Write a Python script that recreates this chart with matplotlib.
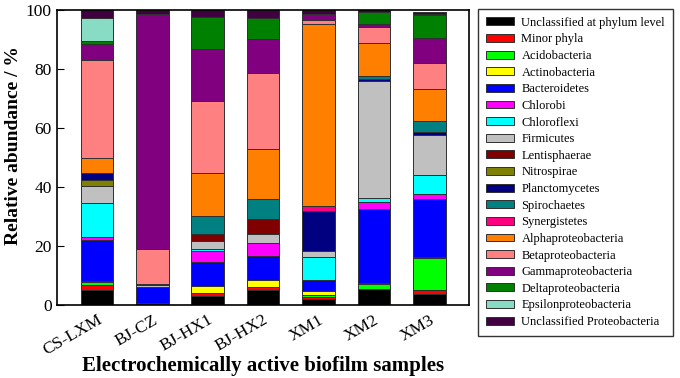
import matplotlib
matplotlib.use("Agg")
import numpy as np
import matplotlib.pyplot as plt

plt.rcParams['font.family'] = ['Liberation Serif', 'DejaVu Serif']

samples = ["CS-LXM", "BJ-CZ", "BJ-HX1", "BJ-HX2", "XM1", "XM2", "XM3"]

taxa = ["Unclassified at phylum level", "Minor phyla", "Acidobacteria",
        "Actinobacteria", "Bacteroidetes", "Chlorobi", "Chloroflexi",
        "Firmicutes", "Lentisphaerae", "Nitrospirae", "Planctomycetes",
        "Spirochaetes", "Synergistetes", "Alphaproteobacteria",
        "Betaproteobacteria", "Gammaproteobacteria", "Deltaproteobacteria",
        "Epsilonproteobacteria", "Unclassified Proteobacteria"]

colours = ["#000000", "#FF0000", "#00FF00", "#FFFF00", "#0000FF", "#FF00FF",
           "#00FFFF", "#C0C0C0", "#800000", "#808000", "#000080", "#008080",
           "#FF0080", "#FF8000", "#FF8080", "#800080", "#008000", "#88DCC4",
           "#400040"]

# relative abundance (%) per taxon, one value per sample
unclass_phylum = [5.1, 0.6, 3.2, 5.1, 2.0, 5.3, 3.6]
minor_phyla    = [1.7, 0.0, 0.8, 0.9, 0.8, 0.3, 1.5]
acidobacteria  = [0.9, 0.0, 0.0, 0.0, 0.6, 1.4, 10.7]
actinobacteria = [0.5, 0.0, 2.4, 2.5, 1.4, 0.5, 0.6]
bacteroidetes  = [13.9, 5.4, 8.3, 8.1, 3.7, 24.9, 19.4]
chlorobi       = [1.1, 0.0, 3.7, 4.3, 0.0, 2.5, 1.7]
chloroflexi    = [11.3, 0.0, 0.7, 0.2, 7.9, 1.5, 6.6]
firmicutes     = [5.9, 0.8, 2.6, 3.0, 2.0, 39.4, 13.5]
lentisphaerae  = [0.0, 0.4, 2.3, 4.9, 0.0, 0.0, 0.0]
nitrospirae    = [2.0, 0.0, 0.0, 0.0, 0.0, 0.0, 0.0]
planctomycetes = [2.2, 0.0, 0.0, 0.0, 13.6, 0.9, 0.9]
spirochaetes   = [0.0, 0.0, 6.3, 6.9, 0.0, 0.8, 4.0]
synergistetes  = [0.0, 0.0, 0.0, 0.0, 1.5, 0.0, 0.0]
alpha          = [5.1, 0.0, 14.5, 16.9, 61.6, 11.1, 10.6]
beta           = [33.3, 11.9, 24.4, 25.7, 1.6, 5.7, 9.0]
gamma          = [5.4, 79.4, 17.5, 11.6, 2.0, 0.8, 8.5]
delta          = [1.1, 0.0, 11.0, 7.3, 0.0, 4.0, 7.7]
epsilon        = [7.9, 0.0, 0.0, 0.0, 0.0, 0.0, 0.4]
unclass_proteo = [2.6, 1.4, 2.3, 2.6, 1.1, 0.8, 0.6]

abundance = [unclass_phylum, minor_phyla, acidobacteria, actinobacteria,
             bacteroidetes, chlorobi, chloroflexi, firmicutes, lentisphaerae,
             nitrospirae, planctomycetes, spirochaetes, synergistetes, alpha,
             beta, gamma, delta, epsilon, unclass_proteo]

fig = plt.figure(figsize=(6.8, 3.78), dpi=100)
ax = fig.add_axes([0.084, 0.193, 0.606, 0.781])

x = np.arange(len(samples))
bottom = np.zeros(len(samples))
for name, vals, col in zip(taxa, abundance, colours):
    vals = np.array(vals)
    ax.bar(x, vals, width=0.59, bottom=bottom, color=col, edgecolor="#303030",
           linewidth=0.7, label=name)
    bottom += vals

ax.set_xlim(-0.72, 6.72)
ax.set_ylim(0, 100)
ax.set_yticks([0, 20, 40, 60, 80, 100])
ax.set_xticks(x)
ax.set_xticklabels(samples, rotation=30, ha="right", rotation_mode="anchor",
                   fontsize=12.5)
ax.tick_params(axis="y", direction="in", labelsize=12.5, length=5, pad=4)
ax.tick_params(axis="x", length=0, pad=5)
ax.set_ylabel("Relative abundance / %", fontsize=14, fontweight="bold")
ax.yaxis.set_label_coords(-0.085, 0.54)
ax.set_xlabel("Electrochemically active biofilm samples", fontsize=15,
              fontweight="bold")
ax.xaxis.set_label_coords(0.5, -0.172)
for sp in ax.spines.values():
    sp.set_linewidth(1.2)

handles, labels = ax.get_legend_handles_labels()
leg = fig.legend(handles, labels, loc="upper left",
                 bbox_to_anchor=(478 / 680, 1 - 9 / 378), fontsize=9,
                 frameon=True, fancybox=False, edgecolor="black",
                 handlelength=2.3, handleheight=0.6, labelspacing=0.37,
                 borderpad=0.62, handletextpad=0.55, borderaxespad=0)
leg.get_frame().set_linewidth(1.0)

fig.savefig("out.png", dpi=100)
